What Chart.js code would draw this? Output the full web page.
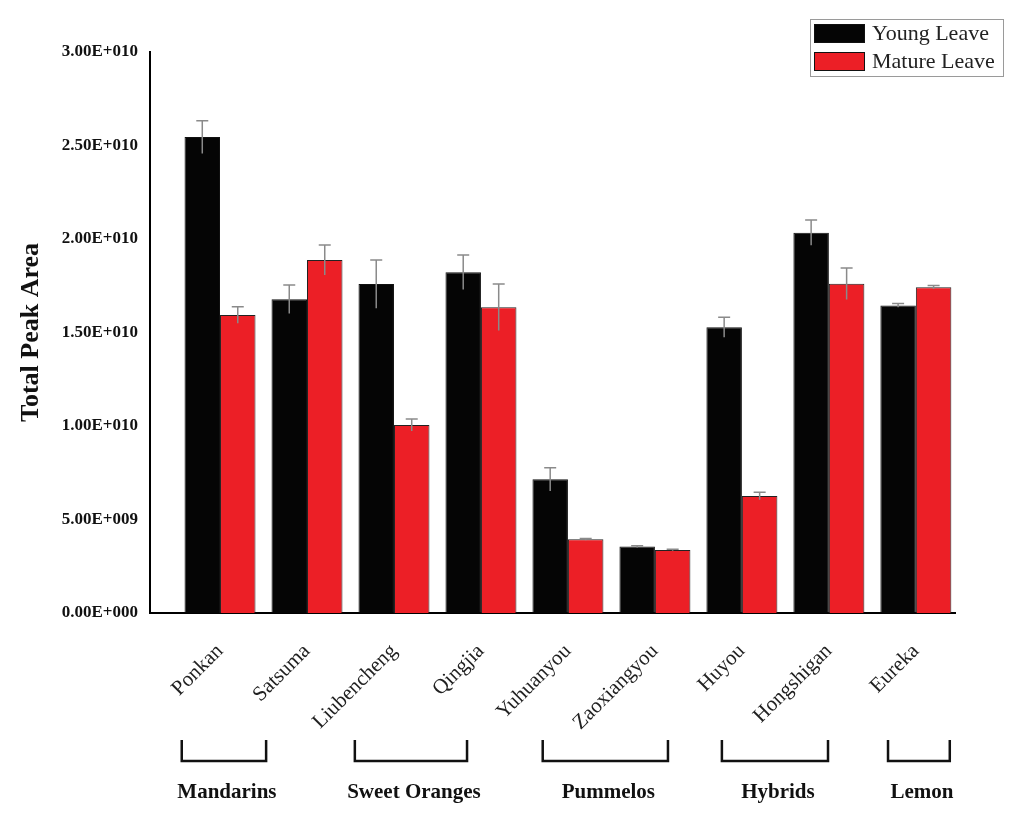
<!DOCTYPE html>
<html>
<head>
<meta charset="utf-8">
<title>Total Peak Area</title>
<script src="https://cdn.jsdelivr.net/npm/chart.js"></script>
<style>
  html, body { margin: 0; padding: 0; background: #fff; }
  #wrap { width: 1024px; height: 820px; }
</style>
</head>
<body>
<div id="wrap"><canvas id="peakChart" width="1024" height="820"></canvas></div>
<script>
// cultivars (x axis) and the groups they belong to
const cultivars = ['Ponkan', 'Satsuma', 'Liubencheng', 'Qingjia', 'Yuhuanyou', 'Zaoxiangyou', 'Huyou', 'Hongshigan', 'Eureka'];
const groupNames = ['Mandarins', 'Sweet Oranges', 'Pummelos', 'Hybrids', 'Lemon'];

// total peak area
const youngLeave = [2.545e10, 1.678e10, 1.759e10, 1.822e10, 7.15e9, 3.55e9, 1.528e10, 2.034e10, 1.645e10];
const youngErr = [8.8e8, 7.6e8, 1.29e9, 9.2e8, 6.2e8, 5e7, 5.3e8, 6.8e8, 1e8];
const matureLeave = [1.594e10, 1.888e10, 1.005e10, 1.635e10, 3.94e9, 3.37e9, 6.26e9, 1.761e10, 1.742e10];
const matureErr = [4.4e8, 8e8, 3.2e8, 1.24e9, 5e7, 4e7, 2e8, 8.4e8, 9e7];

const yTickLabels = ['0.00E+000', '5.00E+009', '1.00E+010', '1.50E+010', '2.00E+010', '2.50E+010', '3.00E+010'];

// bracket spans under the axis, in category units
const groupSpans = [[-0.44, 0.53], [1.55, 2.84], [3.71, 5.15], [5.77, 6.99], [7.68, 8.39]];

const SERIF = "'Liberation Serif', 'Times New Roman', serif";
const RED = '#ec1f26';
const BLACK = '#050505';

const toPoints = arr => arr.map((v, i) => ({ x: i, y: v }));

// vertical error bars with a cap on top
const errorBars = {
  id: 'errorBars',
  afterDatasetsDraw(chart) {
    const ctx = chart.ctx;
    const y = chart.scales.y;
    const errs = [youngErr, matureErr];
    ctx.save();
    ctx.strokeStyle = '#8a8a8a';
    ctx.lineWidth = 1.5;
    chart.data.datasets.forEach((ds, d) => {
      chart.getDatasetMeta(d).data.forEach((bar, i) => {
        const v = ds.data[i].y;
        const e = errs[d][i];
        const top = y.getPixelForValue(v + e);
        const bot = y.getPixelForValue(v - e);
        ctx.beginPath();
        ctx.moveTo(bar.x, bot);
        ctx.lineTo(bar.x, top);
        ctx.moveTo(bar.x - 6, top);
        ctx.lineTo(bar.x + 6, top);
        ctx.stroke();
      });
    });
    ctx.restore();
  }
};

// group brackets and names below the cultivar labels
const groupBrackets = {
  id: 'groupBrackets',
  afterDraw(chart) {
    const ctx = chart.ctx;
    const x = chart.scales.x;
    const base = chart.chartArea.bottom;
    ctx.save();
    ctx.strokeStyle = '#111';
    ctx.lineWidth = 2.5;
    ctx.fillStyle = '#111';
    ctx.font = 'bold 21px ' + SERIF;
    ctx.textAlign = 'center';
    ctx.textBaseline = 'middle';
    groupNames.forEach((name, g) => {
      const x0 = x.getPixelForValue(groupSpans[g][0]);
      const x1 = x.getPixelForValue(groupSpans[g][1]);
      ctx.beginPath();
      ctx.moveTo(x0, base + 127);
      ctx.lineTo(x0, base + 148);
      ctx.lineTo(x1, base + 148);
      ctx.lineTo(x1, base + 127);
      ctx.stroke();
      ctx.fillText(name, (x0 + x1) / 2 + 3, base + 180);
    });
    ctx.restore();
  }
};

// boxed legend in the top right corner
const boxLegend = {
  id: 'boxLegend',
  afterDraw(chart) {
    const ctx = chart.ctx;
    const left = 810, top = 19;
    ctx.save();
    ctx.strokeStyle = '#9a9a9a';
    ctx.lineWidth = 1;
    ctx.strokeRect(left + 0.5, top + 0.5, 193, 57);
    ctx.font = '22px ' + SERIF;
    ctx.textBaseline = 'middle';
    chart.data.datasets.forEach((ds, d) => {
      const yy = top + 5 + d * 28;
      ctx.fillStyle = ds.backgroundColor;
      ctx.fillRect(left + 4, yy, 51, 19);
      ctx.strokeStyle = '#111';
      ctx.strokeRect(left + 4.5, yy + 0.5, 50, 18);
      ctx.fillStyle = '#222';
      ctx.fillText(ds.label, left + 62, yy + 10);
    });
    ctx.restore();
  }
};

new Chart(document.getElementById('peakChart'), {
  type: 'bar',
  data: {
    datasets: [
      {
        label: 'Young Leave',
        data: toPoints(youngLeave),
        backgroundColor: BLACK,
        borderColor: '#111',
        borderWidth: 1
      },
      {
        label: 'Mature Leave',
        data: toPoints(matureLeave),
        backgroundColor: RED,
        borderColor: '#222',
        borderWidth: 1
      }
    ]
  },
  options: {
    responsive: false,
    animation: false,
    devicePixelRatio: 1,
    categoryPercentage: 0.816,
    barPercentage: 1,
    layout: { padding: { left: 0, right: 69, top: 52, bottom: 0 } },
    plugins: {
      legend: { display: false },
      tooltip: { enabled: false }
    },
    scales: {
      x: {
        type: 'linear',
        offset: false,
        min: -0.805,
        max: 8.45,
        afterFit: s => { s.height = 207; },
        grid: { display: false, drawTicks: false, offset: false },
        border: { display: true, color: '#000', width: 2 },
        ticks: {
          stepSize: 1,
          includeBounds: false,
          autoSkip: false,
          minRotation: 45,
          maxRotation: 45,
          padding: 26,
          color: '#222',
          font: { family: SERIF, size: 21 },
          callback: v => (Number.isInteger(v) ? cultivars[v] : '')
        }
      },
      y: {
        min: 0,
        max: 3e10,
        afterFit: s => { s.width = 150; },
        grid: { display: false, drawTicks: false },
        border: { display: true, color: '#000', width: 2 },
        ticks: {
          stepSize: 5e9,
          padding: 12,
          color: '#111',
          font: { family: SERIF, size: 17, weight: 'bold' },
          callback: (v, i) => yTickLabels[i]
        },
        title: {
          display: true,
          text: 'Total Peak Area',
          color: '#111',
          font: { family: SERIF, size: 26, weight: 'bold' },
          padding: { top: 16, bottom: 0 }
        }
      }
    }
  },
  plugins: [errorBars, groupBrackets, boxLegend]
});
</script>
</body>
</html>
